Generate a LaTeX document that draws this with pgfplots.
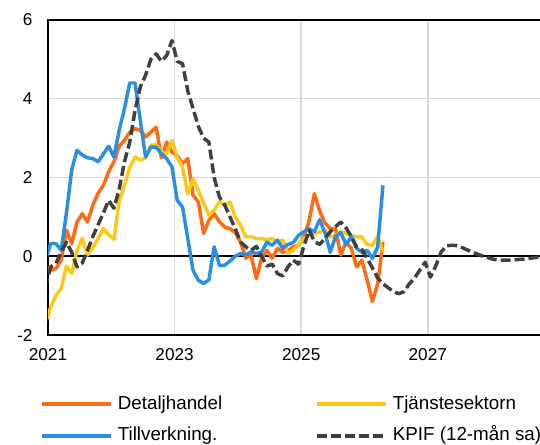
\documentclass[border=0pt]{standalone}
\usepackage{pgfplots}
\usepackage{pgfplotstable}
\usepackage{fontspec}
\setmainfont{Liberation Sans}
\pgfplotsset{compat=1.18}

\definecolor{detalj}{HTML}{FF6A13}
\definecolor{tjanst}{HTML}{FFC814}
\definecolor{tillv}{HTML}{2A8FE0}
\definecolor{kpifgray}{HTML}{404040}
\definecolor{gridgray}{HTML}{D9D9D9}

% Monthly observations, m = 0 is December 2020
\pgfplotstableread{
m det tja till
0 -0.25 -1.70 -0.10
1 -0.35 -1.30 0.32
2 -0.31 -1.00 0.32
3 -0.10 -0.82 0.15
4 0.66 -0.25 1.10
5 0.32 -0.44 2.20
6 0.87 0.15 2.69
7 1.08 0.45 2.57
8 0.87 0.03 2.50
9 1.30 0.22 2.48
10 1.60 0.45 2.40
11 1.80 0.70 2.60
12 2.15 0.55 2.79
13 2.40 0.43 2.52
14 2.80 1.40 3.20
15 2.94 1.80 3.75
16 3.15 2.25 4.40
17 3.24 2.52 4.40
18 3.20 2.44 3.45
19 3.03 2.50 2.52
20 3.15 2.82 2.77
21 3.28 2.82 2.77
22 2.50 2.65 2.60
23 2.90 2.60 2.48
24 2.65 2.94 2.27
25 2.55 2.50 1.42
26 2.35 2.27 1.25
27 2.48 1.59 0.45
28 1.55 1.97 -0.36
29 1.38 1.68 -0.61
30 0.58 1.34 -0.69
31 0.91 1.05 -0.60
32 1.08 1.17 0.24
33 0.88 1.38 -0.23
34 0.74 1.29 -0.23
35 0.70 1.38 -0.12
36 0.60 1.00 0.00
37 0.36 0.79 0.07
38 -0.05 0.49 0.03
39 0.03 0.50 0.11
40 -0.57 0.45 0.07
41 -0.04 0.45 0.11
42 0.15 0.42 0.36
43 -0.05 0.45 0.28
44 0.20 0.36 0.41
45 0.10 0.41 0.20
46 0.15 0.07 0.30
47 0.24 0.15 0.35
48 0.28 0.30 0.53
49 0.50 0.45 0.62
50 0.90 0.53 0.70
51 1.59 0.58 0.62
52 1.15 0.62 0.93
53 0.85 0.66 0.60
54 0.70 0.49 0.10
55 0.70 0.53 0.50
56 0.03 0.62 0.60
57 0.35 0.58 0.30
58 0.20 0.53 0.50
59 -0.27 0.49 0.20
60 -0.10 0.49 0.10
61 -0.60 0.30 0.15
62 -1.15 0.28 -0.06
63 -0.70 0.50 0.24
64 0.36 0.10 1.80
}\sectors

% KPIF, 12-month rate, outcome and forecast
\pgfplotstableread{
m kpif
0 -0.80
1 -0.27
2 -0.18
3 0.10
4 0.36
5 0.10
6 -0.27
7 -0.17
8 0.15
9 0.50
10 0.80
11 1.10
12 1.42
13 1.22
14 1.70
15 2.40
16 2.90
17 3.70
18 4.30
19 4.60
20 5.00
21 5.14
22 4.95
23 5.10
24 5.48
25 4.95
26 4.89
27 4.20
28 3.75
29 3.30
30 3.00
31 2.90
32 2.00
33 1.50
34 1.30
35 1.00
36 0.70
37 0.36
38 0.24
39 0.15
40 0.25
41 0.00
42 -0.25
43 -0.20
44 -0.44
45 -0.50
46 -0.27
47 -0.10
48 -0.20
49 0.25
50 0.66
51 0.38
52 0.30
53 0.45
54 0.62
55 0.75
56 0.87
57 0.72
58 0.50
59 0.24
60 0.17
61 -0.05
62 -0.30
63 -0.55
64 -0.70
65 -0.80
66 -0.90
67 -0.95
68 -0.90
69 -0.70
70 -0.55
71 -0.35
72 -0.15
73 -0.53
74 -0.25
75 0.10
76 0.26
77 0.28
78 0.27
79 0.22
80 0.16
81 0.10
82 0.05
83 0.00
84 -0.04
85 -0.08
86 -0.10
87 -0.10
88 -0.10
89 -0.09
90 -0.08
91 -0.07
92 -0.05
93 -0.03
94 -0.01
95 0.00
}\kpiftab

\begin{document}
\begin{tikzpicture}
\useasboundingbox (0,0) rectangle (405pt,333pt);
\clip (0,0) rectangle (405pt,333pt);
\begin{axis}[
  at={(36pt,81.75pt)}, anchor=south west,
  scale only axis, width=379.8pt, height=236.25pt,
  xmin=0.5, xmax=96.5, ymin=-2, ymax=6,
  xtick={0.5,24.5,48.5,72.5}, xticklabels={2021,2023,2025,2027},
  ytick={-2,0,2,4,6}, yticklabels={-2,0,2,4,6},
  extra y ticks={0}, extra y tick labels={},
  extra y tick style={grid style={black, line width=1.2pt}},
  xmajorgrids, ymajorgrids,
  grid style={gridgray, line width=1.1pt},
  major tick length=0pt,
  axis line style={black, line width=1.6pt},
  tick label style={font=\fontsize{12.9}{15}\selectfont, inner sep=0pt},
  xticklabel style={yshift=-9.75pt},
  yticklabel style={xshift=-11.5pt},
  legend columns=2,
  legend cell align=left,
  legend style={
    at={(axis description cs:-0.0151,-0.191)}, anchor=north west,
    draw=none, fill=none, inner sep=0pt, outer sep=0pt,
    font=\fontsize{14.1}{16}\selectfont,
    nodes={inner sep=0pt, text height=10.5pt, text depth=3pt},
    row sep=10.3pt,
    /tikz/every odd column/.append style={column sep=3.5pt},
    /tikz/every even column/.append style={column sep=69.75pt},
  },
  legend image code/.code={\draw[#1] (0pt,0pt) -- (52pt,0pt);},
  every axis plot/.append style={line width=2.6pt, line join=round},
]
\addplot[detalj] table[x=m, y=det] {\sectors};
\addlegendentry{Detaljhandel}
\addplot[tjanst] table[x=m, y=tja] {\sectors};
\addlegendentry{Tjänstesektorn}
\addplot[tillv] table[x=m, y=till] {\sectors};
\addlegendentry{Tillverkning.}
\addplot[kpifgray, dash pattern=on 7.5pt off 3pt] table[x=m, y=kpif] {\kpiftab};
\addlegendentry{KPIF (12-mån sa)}
\end{axis}
\end{tikzpicture}
\end{document}
